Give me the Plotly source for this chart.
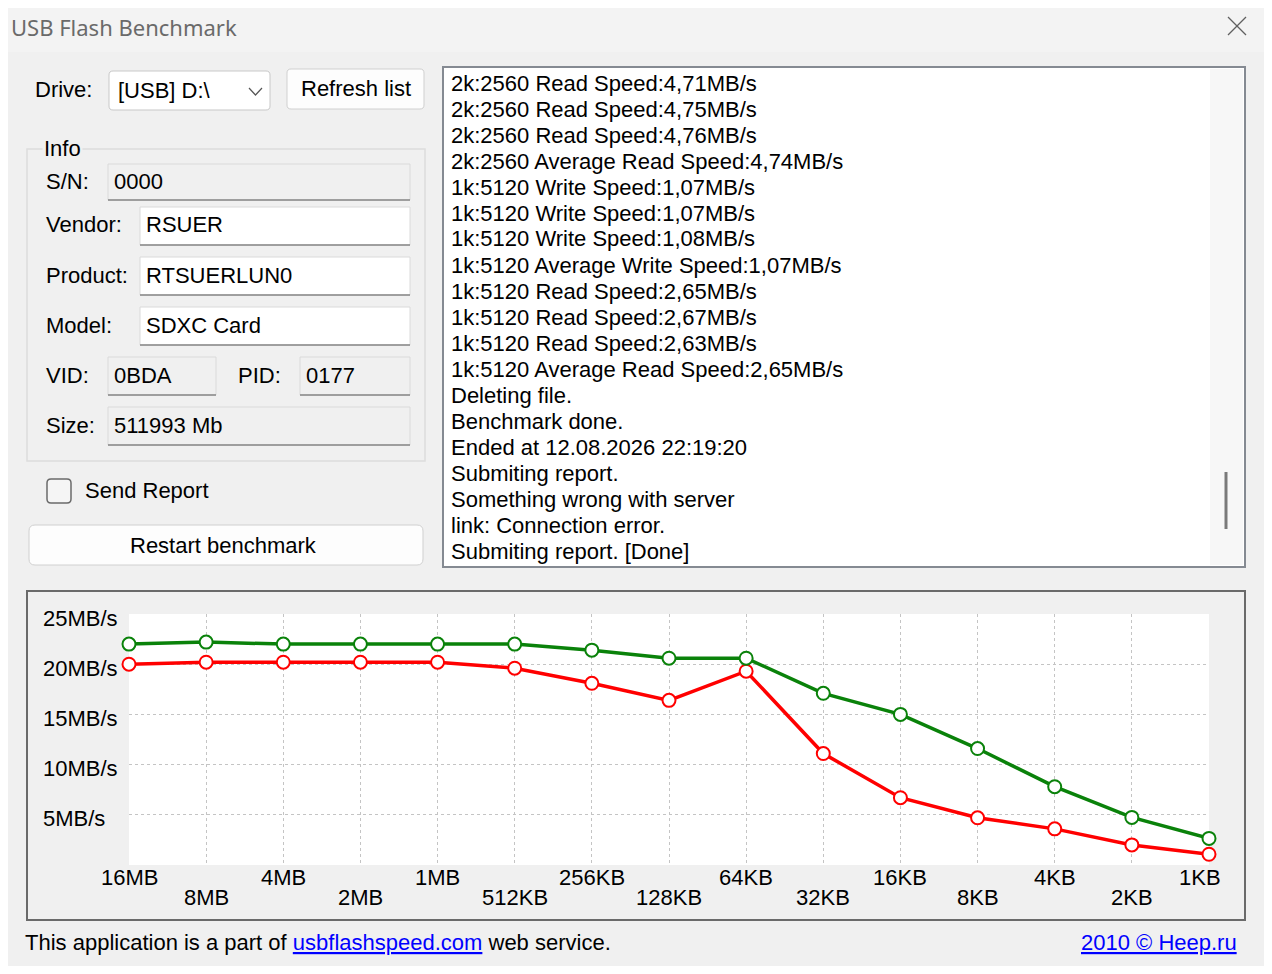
import plotly.graph_objects as go

# page has an 8px body margin, so the figure is shifted by that and sized to fit
OX, OY = 8, 8
FW, FH = 1256, 958
FONT = "Liberation Sans, Arial"
FS = 22

# ---- data ----
SIZES = ["16MB", "8MB", "4MB", "2MB", "1MB", "512KB", "256KB", "128KB",
         "64KB", "32KB", "16KB", "8KB", "4KB", "2KB", "1KB"]
READ_MBS = [22.0, 22.2, 22.0, 22.0, 22.0, 22.0, 21.4, 20.6,
            20.6, 17.1, 15.0, 11.6, 7.8, 4.74, 2.65]
WRITE_MBS = [20.0, 20.2, 20.2, 20.2, 20.2, 19.6, 18.1, 16.4,
             19.3, 11.1, 6.7, 4.7, 3.6, 2.0, 1.07]
Y_TICKS = [5, 10, 15, 20, 25]
Y_LABELS = ["5MB/s", "10MB/s", "15MB/s", "20MB/s", "25MB/s"]

LOG_LINES = [
    "2k:2560 Read Speed:4,71MB/s",
    "2k:2560 Read Speed:4,75MB/s",
    "2k:2560 Read Speed:4,76MB/s",
    "2k:2560 Average Read Speed:4,74MB/s",
    "1k:5120 Write Speed:1,07MB/s",
    "1k:5120 Write Speed:1,07MB/s",
    "1k:5120 Write Speed:1,08MB/s",
    "1k:5120 Average Write Speed:1,07MB/s",
    "1k:5120 Read Speed:2,65MB/s",
    "1k:5120 Read Speed:2,67MB/s",
    "1k:5120 Read Speed:2,63MB/s",
    "1k:5120 Average Read Speed:2,65MB/s",
    "Deleting file.",
    "Benchmark done.",
    "Ended at 12.08.2026 22:19:20",
    "Submiting report.",
    "Something wrong with server",
    "link: Connection error.",
    "Submiting report. [Done]",
]

DRIVE = "[USB] D:\\"
SERIAL = "0000"
VENDOR = "RSUER"
PRODUCT = "RTSUERLUN0"
MODEL = "SDXC Card"
VID = "0BDA"
PID = "0177"
SIZE = "511993 Mb"


def px(x):
    return (x - OX) / FW


def py(y):
    return 1 - (y - OY) / FH


shapes = []
annos = []


def rect(x0, y0, x1, y1, fill=None, line=None, lw=1, layer="below"):
    shapes.append(dict(type="rect", xref="paper", yref="paper",
                       x0=px(x0), x1=px(x1), y0=py(y1), y1=py(y0),
                       fillcolor=fill or "rgba(0,0,0,0)",
                       line=dict(color=line or "rgba(0,0,0,0)", width=lw if line else 0),
                       layer=layer))


def rrect(x0, y0, x1, y1, r=4, fill="white", line="#d0d0d0", lw=1):
    def P(x, y):
        return f"{px(x):.5f},{py(y):.5f}"
    d = (f"M{P(x0 + r, y0)} L{P(x1 - r, y0)} Q{P(x1, y0)} {P(x1, y0 + r)} "
         f"L{P(x1, y1 - r)} Q{P(x1, y1)} {P(x1 - r, y1)} L{P(x0 + r, y1)} "
         f"Q{P(x0, y1)} {P(x0, y1 - r)} L{P(x0, y0 + r)} Q{P(x0, y0)} {P(x0 + r, y0)} Z")
    shapes.append(dict(type="path", xref="paper", yref="paper", path=d,
                       fillcolor=fill, line=dict(color=line, width=lw), layer="below"))


def hline(x0, x1, y, color, lw=1):
    shapes.append(dict(type="line", xref="paper", yref="paper",
                       x0=px(x0), x1=px(x1), y0=py(y), y1=py(y),
                       line=dict(color=color, width=lw), layer="below"))


def seg(x0, y0, x1, y1, color, lw=1):
    shapes.append(dict(type="line", xref="paper", yref="paper",
                       x0=px(x0), x1=px(x1), y0=py(y0), y1=py(y1),
                       line=dict(color=color, width=lw), layer="above"))


def text(x, y, s, anchor="left", size=FS, color="black", family=FONT, bg=None):
    a = dict(xref="paper", yref="paper", x=px(x), y=py(y), text=s,
             showarrow=False, xanchor=anchor, yanchor="middle",
             font=dict(family=family, size=size, color=color))
    if bg:
        a["bgcolor"] = bg
    annos.append(a)


def field(x0, y0, x1, y1, readonly):
    rect(x0, y0, x1, y1, fill="#f0f0f0" if readonly else "white", line="#dadada")
    hline(x0, x1, y1, "#868686", 1.5)


# title bar
rect(OX, OY, OX + FW, 52, fill="#f3f3f3")
text(9, 27, "USB Flash Benchmark", size=22, color="#6a6a6a", family="Noto Sans, Open Sans")
seg(1228, 17, 1246, 35, "#606060", 1.3)
seg(1228, 35, 1246, 17, "#606060", 1.3)

# drive row
text(33, 90, "Drive:")
rrect(109, 71, 270, 110, fill="white", line="#c8c8c8")
text(116, 91, DRIVE)
shapes.append(dict(type="path", xref="paper", yref="paper", layer="above",
                   path=f"M{px(249):.5f},{py(88):.5f} L{px(255.5):.5f},{py(95):.5f} L{px(262):.5f},{py(88):.5f}",
                   line=dict(color="#555555", width=1.2)))
rrect(287, 69, 424, 109, fill="#fdfdfd", line="#d0d0d0")
text(356, 89, "Refresh list", anchor="center")

# info group
rect(27, 149, 425, 461, line="#dcdcdc", lw=1.5)
text(42, 149, "Info", bg="#f0f0f0")
text(44, 181, "S/N:")
field(108, 164, 410, 200, True)
text(112, 181, SERIAL)
text(44, 225, "Vendor:")
field(140, 207, 410, 245, False)
text(144, 225, VENDOR)
text(44, 275, "Product:")
field(140, 257, 410, 295, False)
text(144, 275, PRODUCT)
text(44, 325, "Model:")
field(140, 307, 410, 345, False)
text(144, 325, MODEL)
text(44, 375, "VID:")
field(108, 357, 216, 395, True)
text(112, 375, VID)
text(236, 375, "PID:")
field(300, 357, 410, 395, True)
text(304, 375, PID)
text(44, 425, "Size:")
field(108, 407, 410, 445, True)
text(112, 425, SIZE)

# checkbox + restart button
rrect(47, 479, 71, 503, r=4, fill="#f5f5f5", line="#6a6a6a", lw=1.5)
text(83, 491, "Send Report")
rrect(29, 525, 423, 565, r=6, fill="#fdfdfd", line="#d0d0d0")
text(223, 545, "Restart benchmark", anchor="center")

# log box
rect(443, 67, 1245, 567, fill="white", line="#858a92", lw=2)
rect(1210, 69, 1243, 565, fill="#f7f7f7")
seg(1226, 472, 1226, 529, "#7a7a7a", 3)
for i, line in enumerate(LOG_LINES):
    text(449, 83 + 26 * i, line)

# chart frame
rect(27, 591, 1245, 920, line="#6a6a6a", lw=2)

# bottom line
text(23, 942, "This application is a part of "
     "<span style='color:#0000ff'><u>usbflashspeed.com</u></span> web service.")
text(1239, 942, "<u>2010 © Heep.ru</u>", anchor="right", color="#0000ff")

# chart labels (y labels are left aligned, x labels alternate in two rows)
xi = list(range(len(SIZES)))
for v, lab in zip(Y_TICKS, Y_LABELS):
    annos.append(dict(xref="paper", yref="y", x=px(41), y=v, text=lab,
                      showarrow=False, xanchor="left", yanchor="middle", yshift=-4,
                      font=dict(family=FONT, size=FS, color="black")))
for i in xi:
    annos.append(dict(xref="x", yref="paper", x=i, y=py(877 if i % 2 == 0 else 897),
                      text=SIZES[i], showarrow=False,
                      xanchor="right" if i == xi[-1] else "center", yanchor="middle",
                      xshift=14 if i == xi[-1] else 0,
                      font=dict(family=FONT, size=FS, color="black")))

fig = go.Figure()
fig.add_trace(go.Scatter(
    x=xi, y=WRITE_MBS, mode="lines+markers", name="write",
    line=dict(color="#ff0000", width=3.5),
    marker=dict(size=13, color="white", line=dict(color="#ff0000", width=2)),
    cliponaxis=False,
))
fig.add_trace(go.Scatter(
    x=xi, y=READ_MBS, mode="lines+markers", name="read",
    line=dict(color="#0a820a", width=3.5),
    marker=dict(size=13, color="white", line=dict(color="#0a820a", width=2)),
    cliponaxis=False,
))

grid = dict(showgrid=True, gridcolor="#c4c4c4", griddash="3px,3px", gridwidth=1,
            zeroline=False, showline=False, ticks="", fixedrange=True,
            showticklabels=False)
fig.update_xaxes(domain=[px(129), px(1209)], range=[0, len(SIZES) - 1],
                 tickvals=xi, **grid)
fig.update_yaxes(domain=[py(865), py(614)], range=[0, 25], tickvals=Y_TICKS, **grid)

fig.update_layout(
    width=FW, height=FH,
    margin=dict(l=0, r=0, t=0, b=0, pad=0, autoexpand=False),
    paper_bgcolor="#f0f0f0", plot_bgcolor="white",
    showlegend=False, shapes=shapes, annotations=annos,
    font=dict(family=FONT, size=FS),
)
fig.write_html("out.html")
